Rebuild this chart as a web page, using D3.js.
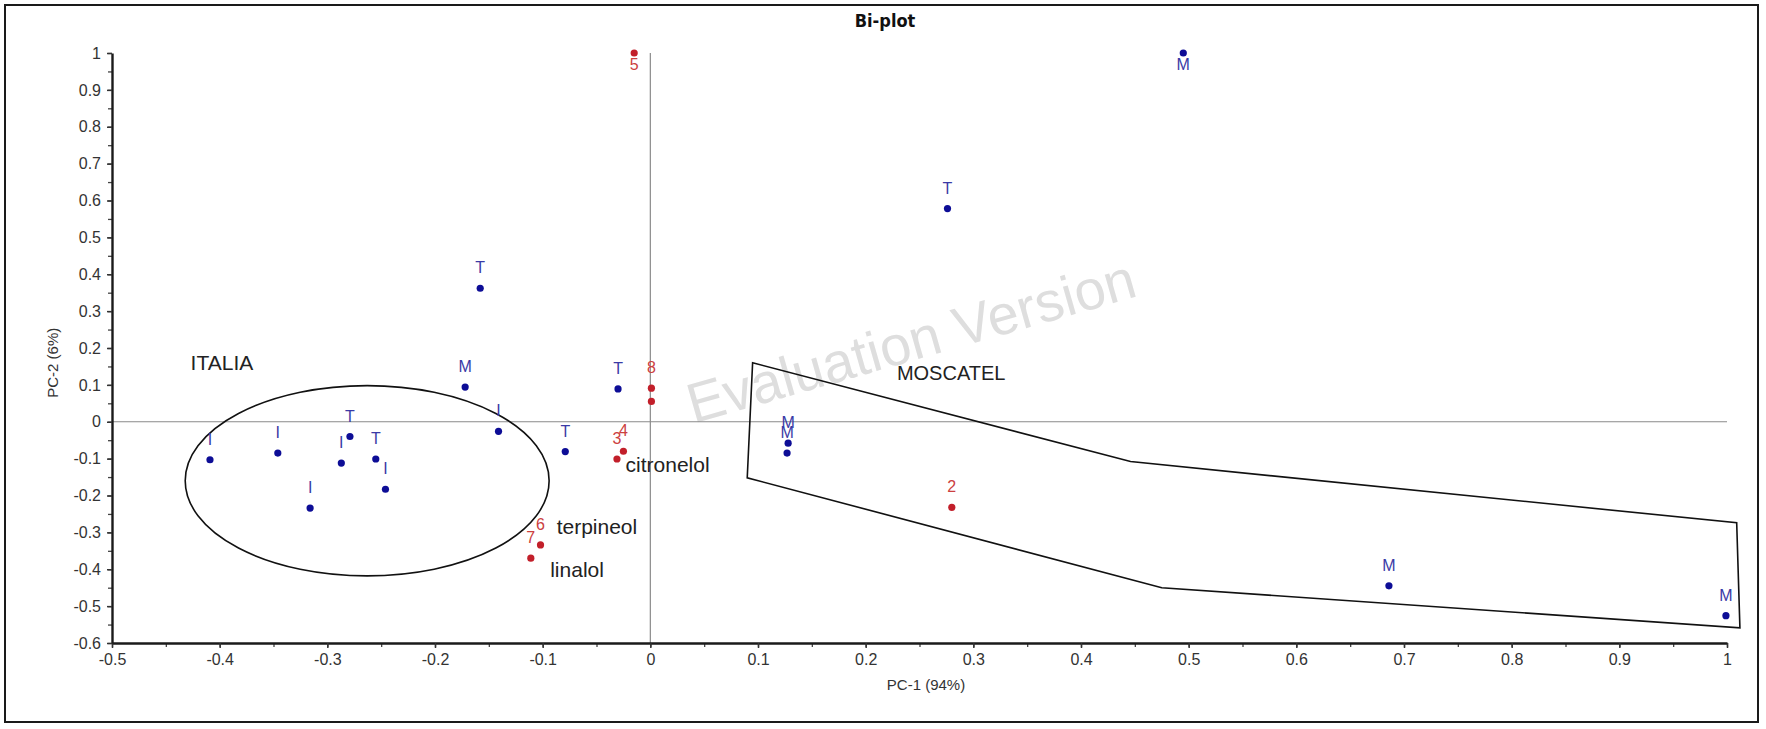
<!DOCTYPE html>
<html>
<head>
<meta charset="utf-8">
<script src="https://cdn.jsdelivr.net/npm/d3@7"></script>
<style>
  html, body { margin: 0; padding: 0; background: #fff; }
  svg { display: block; }
</style>
</head>
<body>
<svg id="chart" width="1766" height="729"></svg>
<script>
// ---------------- data ----------------
const xTicks = [-0.5, -0.4, -0.3, -0.2, -0.1, 0, 0.1, 0.2, 0.3, 0.4, 0.5, 0.6, 0.7, 0.8, 0.9, 1];
const yTicks = [-0.6, -0.5, -0.4, -0.3, -0.2, -0.1, 0, 0.1, 0.2, 0.3, 0.4, 0.5, 0.6, 0.7, 0.8, 0.9, 1];

// samples (observations) – blue
const sampleLabels = ["I", "I", "I", "T", "I", "T", "I", "M", "T", "I", "T", "T", "M", "M", "T", "M", "M", "M"];
const sampleX = [-0.409, -0.346, -0.316, -0.279, -0.287, -0.255, -0.246, -0.172, -0.158, -0.141, -0.079, -0.030, 0.128, 0.127, 0.276, 0.495, 0.686, 0.999];
const sampleY = [-0.103, -0.085, -0.234, -0.040, -0.112, -0.101, -0.183, 0.094, 0.362, -0.026, -0.081, 0.089, -0.058, -0.085, 0.578, 1.0, -0.445, -0.526];

// variables – red
const varLabels = ["5", "8", "", "4", "3", "6", "7", "2"];
const varX = [-0.015, 0.001, 0.001, -0.025, -0.031, -0.102, -0.111, 0.280];
const varY = [1.0, 0.091, 0.055, -0.080, -0.101, -0.334, -0.370, -0.232];

// annotations
const noteTexts = ["citronelol", "terpineol", "linalol"];
const noteX = [-0.023, -0.087, -0.093];
const noteY = [-0.122, -0.290, -0.407];

const groupNames = ["ITALIA", "MOSCATEL"];
const groupX = [-0.427, 0.229];
const groupY = [0.155, 0.128];

// ITALIA ellipse (centre / radii in data units)
const ellipseCx = -0.263, ellipseCy = -0.160, ellipseRx = 0.169, ellipseRy = 0.258;

// MOSCATEL polygon (data units)
const polyX = [0.095, 0.446, 1.009, 1.012, 0.475, 0.090];
const polyY = [0.160, -0.108, -0.274, -0.559, -0.450, -0.152];

// ---------------- layout ----------------
const svg = d3.select("#chart");
const plotL = 112, plotR = 1727, plotT = 53, plotB = 643;

const x = d3.scaleLinear().domain([-0.5, 1]).range([plotL, plotR]);
const y = d3.scaleLinear().domain([-0.6, 1]).range([plotB, plotT]);

const FONT = "'Liberation Sans', Arial, sans-serif";

// outer frame
svg.append("rect").attr("x", 5).attr("y", 5).attr("width", 1753).attr("height", 717)
  .attr("fill", "#fff").attr("stroke", "#1a1a1a").attr("stroke-width", 2);

// watermark
svg.append("text")
  .attr("transform", `translate(${x(0.04)},${y(-0.005)}) rotate(-16)`)
  .attr("font-family", FONT).attr("font-size", 56)
  .attr("fill", "#dedede")
  .text("Evaluation Version");

// title
svg.append("text").attr("x", 885).attr("y", 27).attr("text-anchor", "middle")
  .attr("font-family", "'Liberation Sans Narrow', 'DejaVu Sans Condensed', sans-serif")
  .attr("font-weight", "bold").attr("font-size", 18).attr("fill", "#111")
  .text("Bi-plot");

// zero lines
svg.append("line").attr("x1", x(-0.5)).attr("x2", x(1)).attr("y1", y(0)).attr("y2", y(0))
  .attr("stroke", "#8a8a8a").attr("stroke-width", 1.2);
svg.append("line").attr("x1", x(0)).attr("x2", x(0)).attr("y1", y(1)).attr("y2", y(-0.6))
  .attr("stroke", "#8a8a8a").attr("stroke-width", 1.2);

// axes
const minorX = d3.range(-0.5, 1.0001, 0.05).map(v => +v.toFixed(2));
const minorY = d3.range(-0.6, 1.0001, 0.05).map(v => +v.toFixed(2));
const fmt = d => String(+(+d).toFixed(1));

const xAxisMinor = d3.axisBottom(x).tickValues(minorX).tickSize(4).tickFormat("");
const xAxis = d3.axisBottom(x).tickValues(xTicks).tickSize(5).tickSizeOuter(0).tickPadding(6).tickFormat(fmt);
const yAxisMinor = d3.axisLeft(y).tickValues(minorY).tickSize(4).tickFormat("");
const yAxis = d3.axisLeft(y).tickValues(yTicks).tickSize(5).tickSizeOuter(0).tickPadding(6).tickFormat(fmt);

function styleAxis(g) {
  g.select(".domain").attr("stroke", "#1a1a1a").attr("stroke-width", 2.4);
  g.selectAll(".tick line").attr("stroke", "#333").attr("stroke-width", 1.5);
  g.selectAll(".tick text").attr("font-family", FONT).attr("font-size", 16).attr("fill", "#333");
}
const gxm = svg.append("g").attr("transform", `translate(0,${plotB})`).call(xAxisMinor);
gxm.select(".domain").remove();
gxm.selectAll(".tick line").attr("stroke", "#444").attr("stroke-width", 1.3);
const gym = svg.append("g").attr("transform", `translate(${plotL},0)`).call(yAxisMinor);
gym.select(".domain").remove();
gym.selectAll(".tick line").attr("stroke", "#444").attr("stroke-width", 1.3);

svg.append("g").attr("transform", `translate(0,${plotB})`).call(xAxis).call(styleAxis);
svg.append("g").attr("transform", `translate(${plotL},0)`).call(yAxis).call(styleAxis);

// axis titles
svg.append("text").attr("x", 926).attr("y", 690).attr("text-anchor", "middle")
  .attr("font-family", FONT).attr("font-size", 15).attr("fill", "#333").text("PC-1 (94%)");
svg.append("text").attr("transform", `translate(58,${y(0.16)}) rotate(-90)`).attr("text-anchor", "middle")
  .attr("font-family", FONT).attr("font-size", 15).attr("fill", "#333").text("PC-2 (6%)");

// ellipse
svg.append("ellipse")
  .attr("cx", x(ellipseCx)).attr("cy", y(ellipseCy))
  .attr("rx", x(ellipseCx + ellipseRx) - x(ellipseCx))
  .attr("ry", y(ellipseCy) - y(ellipseCy + ellipseRy))
  .attr("fill", "none").attr("stroke", "#111").attr("stroke-width", 1.6);

// polygon
const polyPts = polyX.map((v, i) => [x(v), y(polyY[i])]);
svg.append("path").attr("d", d3.line()(polyPts) + "Z")
  .attr("fill", "none").attr("stroke", "#111").attr("stroke-width", 1.6);

// group labels
groupNames.forEach((t, i) => {
  svg.append("text").attr("x", x(groupX[i])).attr("y", y(groupY[i]))
    .attr("dominant-baseline", "middle")
    .attr("font-family", FONT).attr("font-size", i === 0 ? 21 : 20).attr("fill", "#222").text(t);
});

// variable name notes
noteTexts.forEach((t, i) => {
  svg.append("text").attr("x", x(noteX[i])).attr("y", y(noteY[i]))
    .attr("dominant-baseline", "middle")
    .attr("font-family", FONT).attr("font-size", 21).attr("fill", "#222").text(t);
});

// samples
const samples = sampleLabels.map((l, i) => ({ l, x: sampleX[i], y: sampleY[i] }));
svg.append("g").selectAll("circle").data(samples).join("circle")
  .attr("cx", d => x(d.x)).attr("cy", d => y(d.y)).attr("r", 3.6).attr("fill", "#0d0d96");
svg.append("g").selectAll("text").data(samples).join("text")
  .attr("x", d => x(d.x)).attr("y", d => d.y > 0.97 ? y(d.y) + 17 : y(d.y) - 15)
  .attr("text-anchor", "middle")
  .attr("font-family", FONT).attr("font-size", 16).attr("fill", "#3a3aa6").text(d => d.l);

// variables
const vars = varLabels.map((l, i) => ({ l, x: varX[i], y: varY[i] }));
svg.append("g").selectAll("circle").data(vars).join("circle")
  .attr("cx", d => x(d.x)).attr("cy", d => y(d.y)).attr("r", 3.6).attr("fill", "#c21f2a");
svg.append("g").selectAll("text").data(vars).join("text")
  .attr("x", d => x(d.x)).attr("y", d => d.y > 0.97 ? y(d.y) + 17 : y(d.y) - 15)
  .attr("text-anchor", "middle")
  .attr("font-family", FONT).attr("font-size", 16).attr("fill", "#cc4040").text(d => d.l);
</script>
</body>
</html>
